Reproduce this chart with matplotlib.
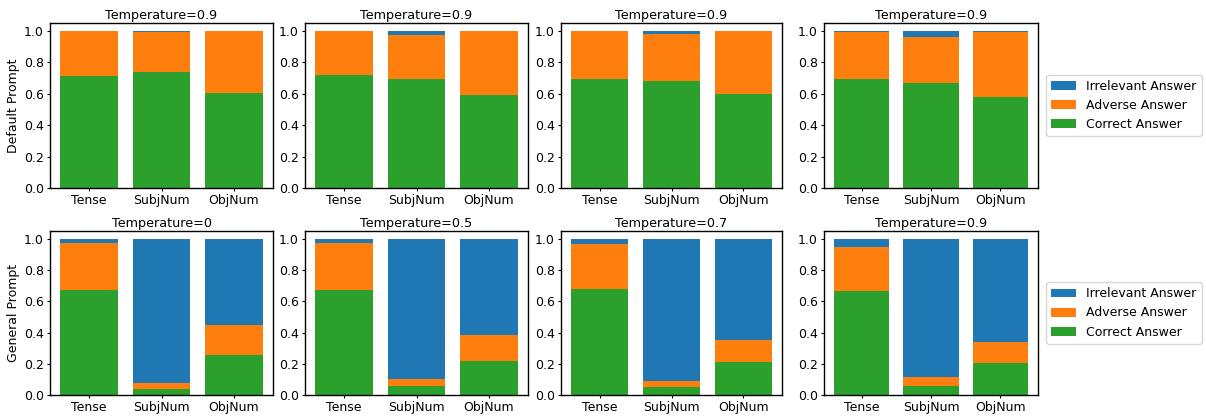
import numpy as np
import matplotlib.pyplot as plt

tasks = ['Tense', 'SubjNum', 'ObjNum']

# top row: default prompt
default_titles = ['Temperature=0.9', 'Temperature=0.9', 'Temperature=0.9', 'Temperature=0.9']
default_correct = [
    [0.71, 0.74, 0.605],
    [0.72, 0.695, 0.59],
    [0.695, 0.68, 0.60],
    [0.695, 0.665, 0.58],
]
default_adverse = [
    [0.29, 0.255, 0.395],
    [0.28, 0.28, 0.41],
    [0.305, 0.302, 0.40],
    [0.30, 0.295, 0.415],
]
default_irrelevant = [
    [0.0, 0.005, 0.0],
    [0.0, 0.025, 0.0],
    [0.0, 0.018, 0.0],
    [0.005, 0.04, 0.005],
]

# bottom row: general prompt
general_titles = ['Temperature=0', 'Temperature=0.5', 'Temperature=0.7', 'Temperature=0.9']
general_correct = [
    [0.67, 0.04, 0.255],
    [0.67, 0.06, 0.215],
    [0.68, 0.05, 0.21],
    [0.665, 0.06, 0.205],
]
general_adverse = [
    [0.305, 0.035, 0.195],
    [0.305, 0.045, 0.17],
    [0.288, 0.042, 0.145],
    [0.285, 0.058, 0.135],
]
general_irrelevant = [
    [0.025, 0.925, 0.55],
    [0.025, 0.895, 0.615],
    [0.032, 0.908, 0.645],
    [0.05, 0.882, 0.66],
]

c_irr = '#1f77b4'
c_adv = '#ff7f0e'
c_cor = '#2ca02c'

plt.rcParams['font.size'] = 9

fig = plt.figure(figsize=(12.06, 4.16), dpi=100)
W, H = 1206.0, 416.0
lefts = [50, 305, 561, 824]
widths = [223, 223, 221, 214]
rows = [(23, 188), (231, 395)]

rowdata = [
    (default_titles, default_correct, default_adverse, default_irrelevant, 'Default Prompt'),
    (general_titles, general_correct, general_adverse, general_irrelevant, 'General Prompt'),
]

x = np.arange(len(tasks))
for r, (titles, cor, adv, irr, ylab) in enumerate(rowdata):
    top, bot = rows[r]
    for i in range(4):
        ax = fig.add_axes([lefts[i] / W, 1 - bot / H, widths[i] / W, (bot - top) / H])
        cc = np.array(cor[i])
        aa = np.array(adv[i])
        ii = np.array(irr[i])
        h1 = ax.bar(x, ii, 0.8, bottom=cc + aa, color=c_irr, label='Irrelevant Answer')
        h2 = ax.bar(x, aa, 0.8, bottom=cc, color=c_adv, label='Adverse Answer')
        h3 = ax.bar(x, cc, 0.8, color=c_cor, label='Correct Answer')
        ax.set_xticks(x)
        ax.set_xticklabels(tasks)
        ax.set_yticks([0, 0.2, 0.4, 0.6, 0.8, 1.0])
        ax.set_ylim(0, 1.05)
        ax.set_xlim(-0.54, 2.54)
        ax.set_title(titles[i], fontsize=9.2, pad=3)
        ax.tick_params(labelsize=9, length=2.5, pad=2)
        for s in ax.spines.values():
            s.set_linewidth(1.0)
        if i == 0:
            ax.set_ylabel(ylab, fontsize=9, labelpad=3)
        if i == 3:
            ax.legend(handles=[h1, h2, h3], loc='center left', bbox_to_anchor=(1.01, 0.5),
                      fontsize=9)

fig.savefig('out.png', dpi=100)
